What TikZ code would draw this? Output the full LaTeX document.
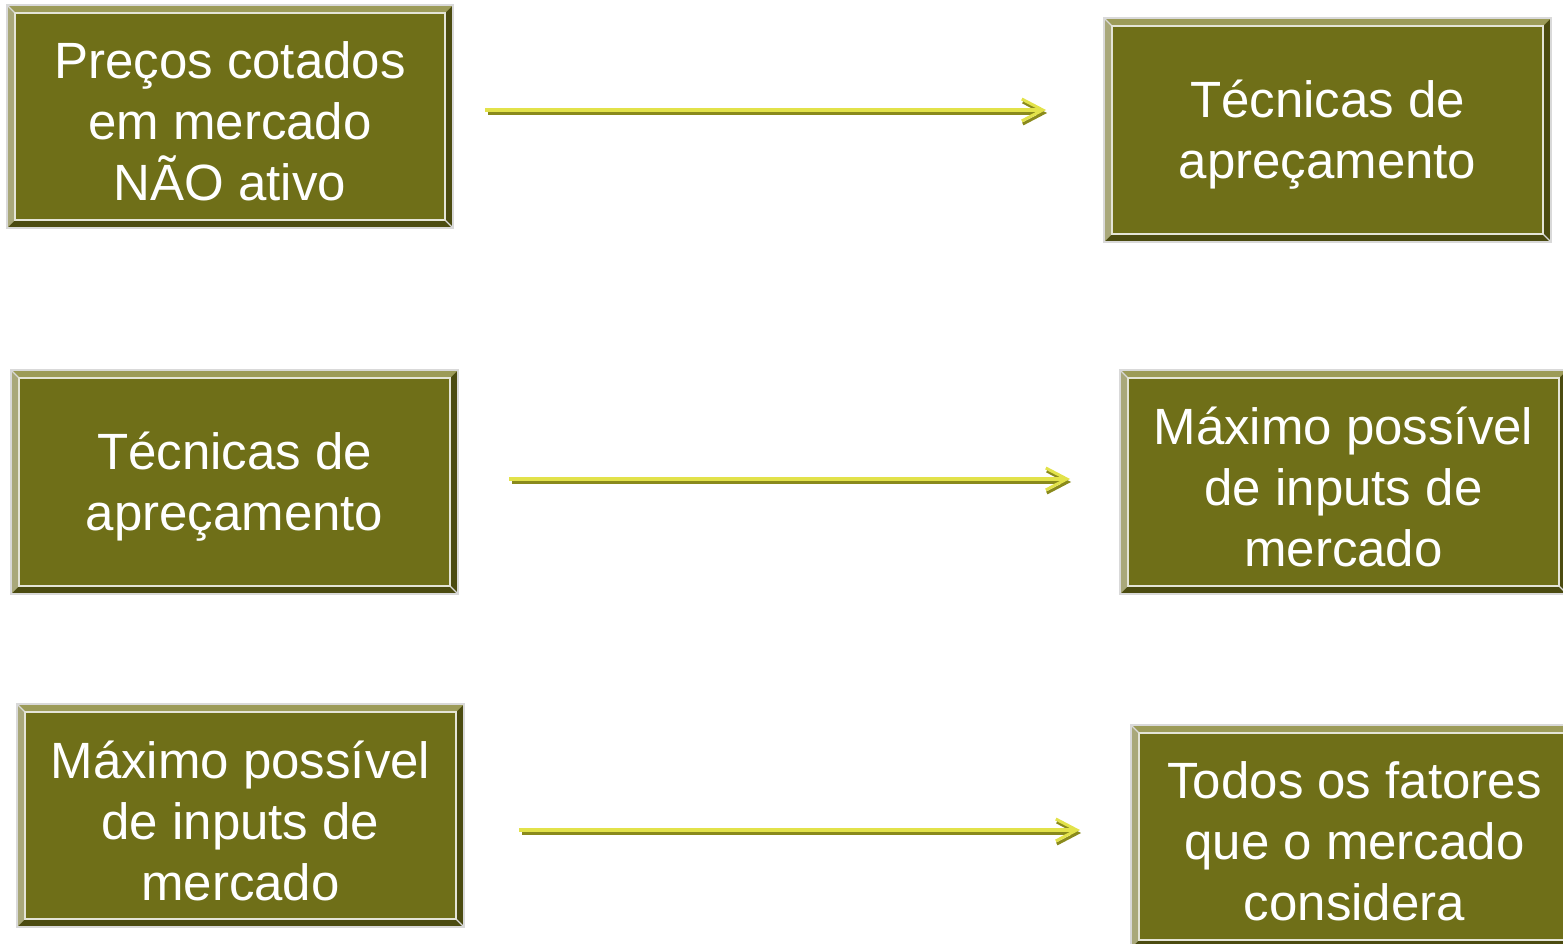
\documentclass[tikz,border=0pt]{standalone}
\usepackage{fontspec}
\setmainfont{Liberation Sans}
\usetikzlibrary{arrows.meta}
\definecolor{olv}{HTML}{6F6F18}
\definecolor{bevL}{HTML}{9C9B58}
\definecolor{bevLL}{HTML}{A9A87A}
\definecolor{bevD}{HTML}{4B4B10}
\definecolor{edge}{HTML}{D9D9D9}
\definecolor{inln}{HTML}{E4E4D6}
\definecolor{ayel}{HTML}{E2E24A}
\definecolor{aolv}{HTML}{8A8A1C}
\tikzset{
  box/.style={fill=olv, draw=inln, line width=2pt, inner sep=0pt},
  txt/.style={text=white, align=center, font=\fontsize{51}{61}\selectfont, inner sep=0pt},
  arrY/.style={draw=ayel, line width=3.2pt, -{Straight Barb[length=21pt,width=22pt,line width=3pt]}},
  arrO/.style={draw=aolv, line width=3.2pt, -{Straight Barb[length=21pt,width=22pt,line width=3pt]}},
}
% name, x1, y1, x2, y2, text
\newcommand\bevbox[6]{%
  \fill[bevD] (#2,#3) rectangle (#4,#5);
  \fill[bevL] (#2,#3) -- (#4,#3) -- (#4-8,#3+8) -- (#2+8,#3+8) -- cycle;
  \fill[bevLL] (#2,#3) -- (#2+8,#3+8) -- (#2+8,#5-8) -- (#2,#5) -- cycle;
  \draw[edge, line width=1.2pt] (#2,#3) -- (#2+8,#3+8);
  \draw[edge, line width=1.2pt] (#4,#5) -- (#4-8,#5-8);
  \draw[edge, line width=2pt] (#2,#3) rectangle (#4,#5);
  \node[box, minimum width=#4-#2-16, minimum height=#5-#3-16] (#1) at ({(#2+#4)/2},{(#3+#5)/2}) {};
  \node[txt] (#1t) at ([yshift=-5pt]#1.center) {#6};
}
\begin{document}
\begin{tikzpicture}[x=1pt,y=-1pt]
\useasboundingbox (0,0) rectangle (1563,944);
\bevbox{b1}{7}{5}{453}{228}{Preços cotados\\em mercado\\NÃO ativo}
\bevbox{b2}{1104}{18}{1551}{242}{Técnicas de\\apreçamento}
\bevbox{b3}{11}{370}{458}{594}{Técnicas de\\apreçamento}
\bevbox{b4}{1120}{370}{1567}{594}{Máximo possível\\de inputs de\\mercado}
\bevbox{b5}{17}{704}{464}{927}{Máximo possível\\de inputs de\\mercado}
\bevbox{b6}{1131}{725}{1578}{948}{Todos os fatores\\que o mercado\\considera}
\coordinate (a1s) at (485,110);
\coordinate (a1e) at (1046,110);
\coordinate (a2s) at (509,479);
\coordinate (a2e) at (1070,479);
\coordinate (a3s) at (519,830);
\coordinate (a3e) at (1080,830);
\foreach \s/\e in {a1s/a1e,a2s/a2e,a3s/a3e}{
  \draw[arrO] ([shift={(3,3)}]\s) -- ([shift={(1,3)}]\e);
  \draw[arrY] (\s) -- (\e);
}
\end{tikzpicture}
\end{document}
